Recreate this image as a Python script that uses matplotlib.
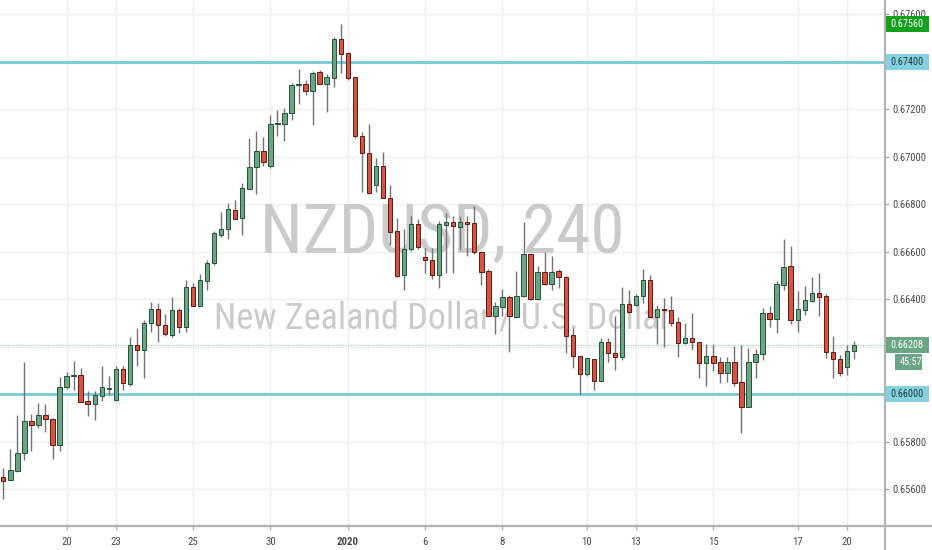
import numpy as np
import matplotlib
matplotlib.use("Agg")
import matplotlib.pyplot as plt
from matplotlib import font_manager as fm, transforms as mtrans
from matplotlib.patches import Rectangle
from matplotlib.lines import Line2D

# ---------------- data (NZDUSD, 4h candles) ----------------
opens = [0.65653, 0.65641, 0.65679, 0.65754, 0.65886, 0.65871, 0.65914, 0.65897, 0.65786, 0.66032,
         0.66077, 0.66083, 0.65970, 0.65961, 0.65993, 0.66021, 0.65976, 0.66105, 0.66042, 0.66207,
         0.66186, 0.66298, 0.66360, 0.66290, 0.66250, 0.66353, 0.66285, 0.66453, 0.66371, 0.66478,
         0.66553, 0.66672, 0.66695, 0.66775, 0.66742, 0.66866, 0.66955, 0.67023, 0.66962, 0.67139,
         0.67139, 0.67184, 0.67302, 0.67307, 0.67275, 0.67355, 0.67306, 0.67333, 0.67497, 0.67435,
         0.67334, 0.67088, 0.67014, 0.66883, 0.66962, 0.66828, 0.66686, 0.66501, 0.66612, 0.66717,
         0.66579, 0.66565, 0.66502, 0.66714, 0.66724, 0.66706, 0.66724, 0.66721, 0.66600, 0.66520,
         0.66328, 0.66366, 0.66411, 0.66326, 0.66415, 0.66591, 0.66401, 0.66516, 0.66464, 0.66520,
         0.66492, 0.66249, 0.66162, 0.66084, 0.66150, 0.66056, 0.66221, 0.66173, 0.66155, 0.66382,
         0.66377, 0.66412, 0.66482, 0.66325, 0.66359, 0.66356, 0.66304, 0.66215, 0.66239, 0.66222,
         0.66131, 0.66163, 0.66134, 0.66089, 0.66134, 0.66053, 0.65945, 0.66138, 0.66169, 0.66342,
         0.66318, 0.66461, 0.66539, 0.66314, 0.66356, 0.66391, 0.66426, 0.66412, 0.66180, 0.66148,
         0.66114, 0.66183]
highs = [0.65691, 0.65771, 0.65913, 0.66136, 0.65918, 0.65965, 0.65961, 0.65900, 0.66072, 0.66094,
         0.66142, 0.66112, 0.66014, 0.66015, 0.66117, 0.66076, 0.66118, 0.66121, 0.66243, 0.66280,
         0.66312, 0.66389, 0.66384, 0.66336, 0.66411, 0.66364, 0.66482, 0.66470, 0.66508, 0.66565,
         0.66689, 0.66768, 0.66807, 0.66817, 0.66891, 0.67077, 0.67108, 0.67084, 0.67175, 0.67196,
         0.67203, 0.67311, 0.67369, 0.67323, 0.67362, 0.67365, 0.67349, 0.67505, 0.67560, 0.67442,
         0.67337, 0.67105, 0.67139, 0.66993, 0.67018, 0.66880, 0.66740, 0.66697, 0.66749, 0.66738,
         0.66614, 0.66614, 0.66731, 0.66763, 0.66752, 0.66752, 0.66749, 0.66794, 0.66605, 0.66527,
         0.66387, 0.66443, 0.66418, 0.66520, 0.66724, 0.66593, 0.66538, 0.66598, 0.66583, 0.66527,
         0.66496, 0.66281, 0.66162, 0.66152, 0.66150, 0.66239, 0.66235, 0.66328, 0.66450, 0.66440,
         0.66423, 0.66527, 0.66503, 0.66377, 0.66405, 0.66415, 0.66325, 0.66299, 0.66342, 0.66222,
         0.66212, 0.66212, 0.66156, 0.66159, 0.66204, 0.66208, 0.66194, 0.66190, 0.66363, 0.66370,
         0.66475, 0.66654, 0.66623, 0.66436, 0.66454, 0.66494, 0.66510, 0.66423, 0.66246, 0.66166,
         0.66208, 0.66226]
lows = [0.65560, 0.65639, 0.65672, 0.65722, 0.65761, 0.65859, 0.65841, 0.65729, 0.65762, 0.66021,
        0.66018, 0.65969, 0.65910, 0.65892, 0.65972, 0.65997, 0.65970, 0.66020, 0.66035, 0.66120,
        0.66069, 0.66264, 0.66219, 0.66246, 0.66242, 0.66257, 0.66262, 0.66370, 0.66370, 0.66439,
        0.66543, 0.66662, 0.66655, 0.66737, 0.66669, 0.66863, 0.66844, 0.66962, 0.66953, 0.67088,
        0.67066, 0.67154, 0.67224, 0.67259, 0.67133, 0.67306, 0.67189, 0.67295, 0.67351, 0.67321,
        0.67077, 0.66852, 0.66845, 0.66852, 0.66825, 0.66627, 0.66494, 0.66440, 0.66602, 0.66612,
        0.66509, 0.66485, 0.66446, 0.66510, 0.66510, 0.66609, 0.66583, 0.66591, 0.66460, 0.66328,
        0.66253, 0.66330, 0.66176, 0.66323, 0.66408, 0.66398, 0.66398, 0.66461, 0.66440, 0.66446,
        0.66173, 0.66112, 0.66000, 0.66075, 0.66018, 0.66056, 0.66136, 0.66103, 0.66145, 0.66342,
        0.66373, 0.66384, 0.66325, 0.66212, 0.66201, 0.66288, 0.66156, 0.66212, 0.66187, 0.66067,
        0.66037, 0.66096, 0.66046, 0.66053, 0.66037, 0.65838, 0.65945, 0.66067, 0.66145, 0.66283,
        0.66260, 0.66437, 0.66297, 0.66264, 0.66332, 0.66388, 0.66328, 0.66152, 0.66067, 0.66077,
        0.66082, 0.66148]
closes = [0.65637, 0.65681, 0.65754, 0.65886, 0.65871, 0.65913, 0.65895, 0.65786, 0.66032, 0.66079,
          0.66083, 0.65969, 0.65961, 0.65996, 0.66030, 0.66025, 0.66105, 0.66046, 0.66207, 0.66186,
          0.66298, 0.66357, 0.66290, 0.66252, 0.66353, 0.66285, 0.66453, 0.66371, 0.66481, 0.66553,
          0.66679, 0.66695, 0.66779, 0.66738, 0.66869, 0.66957, 0.67026, 0.66979, 0.67139, 0.67143,
          0.67184, 0.67303, 0.67307, 0.67275, 0.67351, 0.67307, 0.67334, 0.67497, 0.67434, 0.67333,
          0.67087, 0.67016, 0.66849, 0.66962, 0.66828, 0.66683, 0.66497, 0.66612, 0.66717, 0.66621,
          0.66564, 0.66502, 0.66717, 0.66724, 0.66707, 0.66724, 0.66717, 0.66598, 0.66513, 0.66330,
          0.66370, 0.66408, 0.66328, 0.66415, 0.66591, 0.66401, 0.66516, 0.66464, 0.66516, 0.66495,
          0.66246, 0.66162, 0.66084, 0.66152, 0.66056, 0.66221, 0.66172, 0.66155, 0.66382, 0.66347,
          0.66412, 0.66482, 0.66325, 0.66359, 0.66353, 0.66302, 0.66218, 0.66236, 0.66222, 0.66131,
          0.66162, 0.66131, 0.66089, 0.66134, 0.66049, 0.65945, 0.66138, 0.66169, 0.66342, 0.66318,
          0.66465, 0.66536, 0.66314, 0.66359, 0.66398, 0.66426, 0.66409, 0.66177, 0.66148, 0.66089,
          0.66183, 0.66208]

date_tick_bars = [9, 16, 27, 38, 49, 60, 71, 83, 90, 101, 113, 120]
date_tick_labels = ["20", "23", "25", "30", "2020", "6", "8", "10", "13", "15", "17", "20"]
price_ticks = [0.656, 0.658, 0.660, 0.662, 0.664, 0.666, 0.668, 0.670, 0.672, 0.674, 0.676]
level_lines = [0.674, 0.660]
high_label = 0.67560
last_price = 0.66208
countdown = "45:57"
symbol_text = "NZDUSD, 240"
desc_text = "New Zealand Dollar / U.S. Dollar"

# ---------------- fonts ----------------
names = {f.name for f in fm.fontManager.ttflist}
narrow = None
for cand in ("Liberation Sans Narrow", "Roboto Condensed", "Open Sans Condensed", "DejaVu Sans Condensed"):
    if cand in names:
        narrow = cand
        break
if narrow is None:
    narrow = "Liberation Sans"
fam = [narrow, "DejaVu Sans"]

# ---------------- figure ----------------
W, H = 932, 550
fig = plt.figure(figsize=(W / 100, H / 100), dpi=100)
fig.patch.set_facecolor("white")
ax_right, ax_bottom_px = 884.5, 526
ax = fig.add_axes([0, (H - ax_bottom_px) / H, ax_right / W, ax_bottom_px / H])
ymin, ymax = 0.654456, 0.676597
ax.set_xlim(-0.47, 125.35)
ax.set_ylim(ymin, ymax)
ppu = ax_bottom_px / (ymax - ymin)  # pixels per price unit

for s in ax.spines.values():
    s.set_visible(False)

# tick labels hidden behind the price boxes are left empty
covered = set(level_lines) | {round(last_price, 3)}
ax.set_yticks(price_ticks)
ax.set_yticklabels(["" if round(p, 3) in covered else f"{p:.5f}" for p in price_ticks], family=fam)
ax.yaxis.tick_right()
ax.set_xticks(date_tick_bars)
ax.set_xticklabels(date_tick_labels, family=fam)
for lbl in ax.get_xticklabels():
    if lbl.get_text() == "2020":
        lbl.set_fontweight("bold")
ax.tick_params(axis="y", right=True, left=False, length=3, width=1, color="#b0b0b0",
               pad=3, labelsize=7.6, labelcolor="#4a4a4a")
ax.tick_params(axis="x", bottom=True, length=3, width=1, color="#b0b0b0",
               pad=5, labelsize=7.8, labelcolor="#4a4a4a")
ax.grid(True, color="#efefef", lw=1)
ax.set_axisbelow(True)

# ---------------- watermark ----------------
t1 = ax.text(0.5, (ax_bottom_px - 252.7) / ax_bottom_px, symbol_text, transform=ax.transAxes,
             ha="center", va="baseline", fontsize=60, color="#cbcbcb", family=fam, zorder=0.6)
t2 = ax.text(0.5, (ax_bottom_px - 328.3) / ax_bottom_px, desc_text, transform=ax.transAxes,
             ha="center", va="baseline", fontsize=30, color="#cbcbcb", family=fam, zorder=0.6)
fig.canvas.draw()
r = fig.canvas.get_renderer()
for t, target in ((t1, 365), (t2, 458)):
    w = t.get_window_extent(r).width
    t.set_fontsize(t.get_fontsize() * target / w)

# ---------------- horizontal lines ----------------
for lv in level_lines:
    ax.axhline(lv, color="#77cad8", lw=2, zorder=1)
ax.axhline(last_price, color="#a6d3b8", lw=0.9, ls=(0, (1, 1)), zorder=1)

# ---------------- candles ----------------
o = np.array(opens); h = np.array(highs); l = np.array(lows); c = np.array(closes)
x = np.arange(len(o))
up = c >= o
ax.vlines(x, l, h, color="#737375", lw=1, zorder=2)
body = c - o
minh = 1.0 / ppu
body = np.where(np.abs(body) < minh, np.where(up, minh, -minh), body)
ax.bar(x[up], body[up], bottom=o[up], width=0.62, color="#6ba583", edgecolor="#225437",
       lw=0.7, zorder=3)
ax.bar(x[~up], body[~up], bottom=o[~up], width=0.62, color="#d75442", edgecolor="#5b1a13",
       lw=0.7, zorder=3)

# ---------------- axis lines (figure-wide) ----------------
fig.add_artist(Line2D([ax_right / W, ax_right / W], [0, 1], transform=fig.transFigure,
                      color="#b4b4b4", lw=1.6, zorder=4))
fig.add_artist(Line2D([0, 1], [(H - ax_bottom_px) / H] * 2, transform=fig.transFigure,
                      color="#b4b4b4", lw=1.6, zorder=4))

# ---------------- price labels ----------------
tr = mtrans.blended_transform_factory(fig.transFigure, ax.transData)


def price_box(center, text, fc, tc, x0=885.5, x1=929, tx=890, hpx=16):
    hd = hpx / ppu
    fig.add_artist(Rectangle((x0 / W, center - hd / 2), (x1 - x0) / W, hd, transform=tr,
                             facecolor=fc, edgecolor="none", zorder=5))
    fig.text(tx / W, center, text, transform=tr, ha="left", va="center",
             fontsize=7.4, color=tc, family=fam, zorder=6)


price_box(high_label, f"{high_label:.5f}", "#14a01f", "white")
for lv in level_lines:
    price_box(lv, f"{lv:.5f}", "#84d2df", "#1f3b40")
price_box(last_price, f"{last_price:.5f}", "#6aa683", "white")
price_box(last_price - 17 / ppu, countdown, "#6aa683", "white", x0=895, x1=922, tx=899.5)

fig.savefig("out.png", dpi=100, facecolor="white")
